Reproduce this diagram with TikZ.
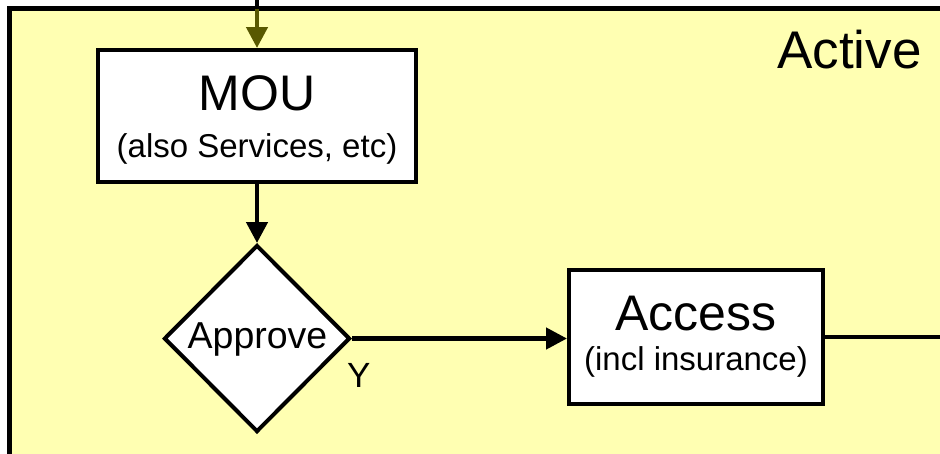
\documentclass[tikz,border=0pt]{standalone}
\usepackage{fontspec}
\setmainfont{Liberation Sans}
\usetikzlibrary{shapes.geometric,arrows.meta}
\definecolor{laneyellow}{RGB}{255,255,178}
\definecolor{olivearrow}{RGB}{88,88,0}
\begin{document}
\begin{tikzpicture}[x=1pt,y=-1pt,
  box/.style={draw=black,line width=4pt,fill=white,inner sep=0pt},
  decision/.style={diamond,draw=black,line width=4pt,fill=white,inner sep=0pt,minimum width=186pt,minimum height=187pt},
  txt/.style={inner sep=0pt,anchor=base},
  conn/.style={line width=4.5pt,draw=black},
  tip/.style={-{Triangle[length=21pt,width=21pt]}}
]
\useasboundingbox (0,0) rectangle (940,453);
\begin{scope}
\clip (0,0) rectangle (940,453);
\fill[white] (0,0) rectangle (940,453);
\draw[line width=4.5pt,fill=laneyellow] (9.5,8.5) rectangle (980,490);
\node[txt,anchor=base west,font=\fontsize{53}{60}\selectfont] (active) at (777,68) {Active};

\node[box,minimum width=318pt,minimum height=132pt] (mou) at (257,116) {};
\node[txt,font=\fontsize{50}{60}\selectfont] (moutitle) at (257,110) {MOU};
\node[txt,font=\fontsize{33}{40}\selectfont] (mousub) at (257,157) {(also Services, etc)};

\node[decision] (approve) at (257,338.5) {};
\node[txt,font=\fontsize{37.5}{42}\selectfont] (approvetxt) at (257.5,348) {Approve};
\node[txt,anchor=base west,font=\fontsize{35}{40}\selectfont] (ylabel) at (347,387) {Y};

\node[box,minimum width=254pt,minimum height=134pt] (access) at (696,337) {};
\node[txt,font=\fontsize{50}{60}\selectfont] (accesstitle) at (696,330) {Access};
\node[txt,font=\fontsize{33}{40}\selectfont] (accesssub) at (696,370) {(incl insurance)};

\coordinate (entry) at (257,0);
\coordinate (laneedge) at (257,8.5);
\coordinate (exitR) at (945,337);

\draw[conn] (entry) -- (laneedge);
\draw[conn,draw=olivearrow,tip,fill=olivearrow] (laneedge) -- (mou.north);
\draw[conn,tip] (mou.south) -- (approve.north);
\draw[conn,tip] (approve.east) -- (access.west |- approve.east);
\draw[conn] (access.east) -- (exitR);
\end{scope}
\end{tikzpicture}
\end{document}
